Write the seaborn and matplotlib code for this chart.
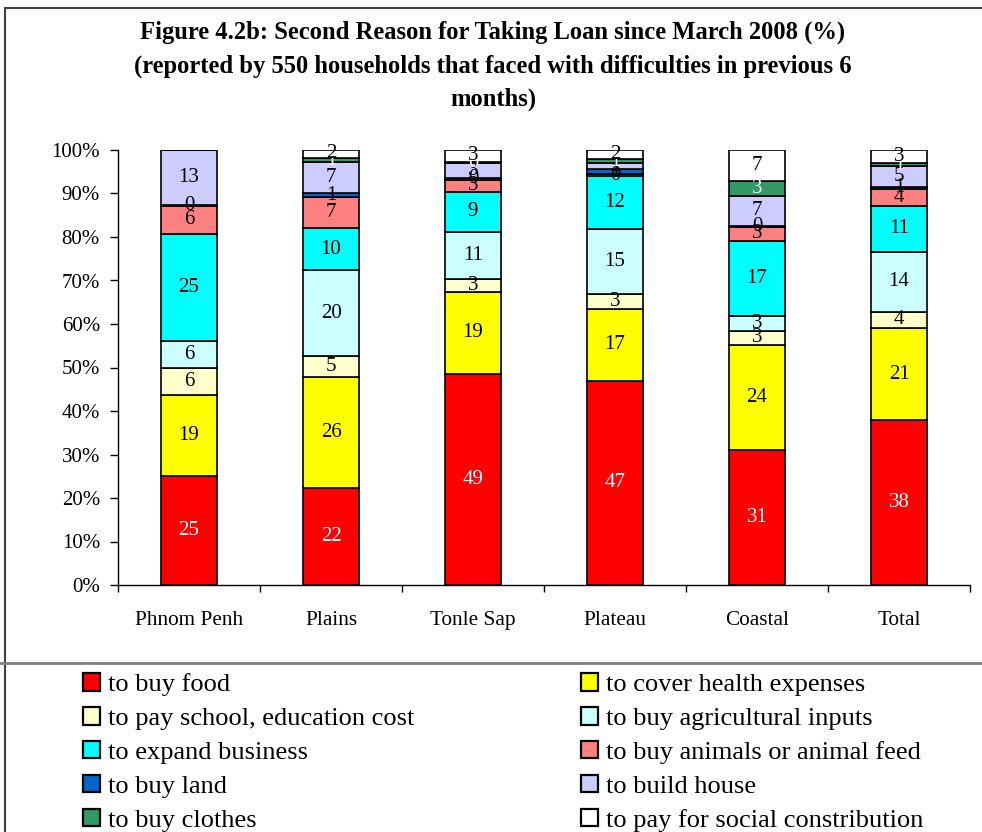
import numpy as np
import pandas as pd
import matplotlib
matplotlib.use("Agg")
import matplotlib.pyplot as plt
import seaborn as sns
from matplotlib.patches import Patch
from matplotlib.lines import Line2D

regions = ["Phnom Penh", "Plains", "Tonle Sap", "Plateau", "Coastal", "Total"]

buy_food      = [25.0, 22.3, 48.6, 46.9, 31.0, 37.9]
health        = [18.6, 25.5, 18.8, 16.6, 24.2, 21.2]
school        = [6.3, 4.8, 2.9, 3.3, 3.2, 3.7]
agri_inputs   = [6.3, 19.8, 10.8, 15.0, 3.4, 13.8]
business      = [24.6, 9.6, 9.3, 12.3, 17.2, 10.6]
animals       = [6.3, 7.2, 2.8, 0.3, 3.4, 3.8]
land          = [0.3, 0.9, 0.4, 1.2, 0.2, 0.6]
house         = [12.6, 7.1, 3.3, 1.3, 6.8, 4.8]
clothes       = [0.0, 1.0, 0.4, 1.0, 3.4, 0.7]
social        = [0.0, 1.8, 2.7, 2.2, 7.2, 2.9]

series_names = ["to buy food", "to cover health expenses", "to pay school, education cost",
                "to buy agricultural inputs", "to expand business", "to buy animals or animal feed",
                "to buy land", "to build house", "to buy clothes", "to pay for social constribution"]
series_vals = [buy_food, health, school, agri_inputs, business, animals, land, house, clothes, social]
colors = ["#FF0000", "#FFFF00", "#FFFFCC", "#CCFFFF", "#00FFFF", "#FF8080",
          "#0066CC", "#CCCCFF", "#339966", "#FFFFFF"]
label_colors = ["white", "black", "black", "black", "black", "black",
                "black", "black", "white", "black"]

sns.set_theme(style="ticks")
plt.rcParams["font.family"] = ["Liberation Serif", "DejaVu Serif"]
plt.rcParams["text.color"] = "black"
plt.rcParams["xtick.color"] = "black"
plt.rcParams["ytick.color"] = "black"
plt.rcParams["xtick.labelcolor"] = "black"
plt.rcParams["ytick.labelcolor"] = "black"

fig = plt.figure(figsize=(9.82, 8.32), dpi=100)
ax = fig.add_axes([118/982, 1-585/832, 852/982, 435/832])

bottoms = np.zeros(len(regions))
for name, vals, col in zip(series_names, series_vals, colors):
    df = pd.DataFrame({"region": regions, "value": vals})
    sns.barplot(data=df, x="region", y="value", bottom=bottoms.copy(), color=col,
                width=0.39, edgecolor="black", linewidth=1.2, saturation=1,
                errorbar=None, ax=ax, order=regions)
    bottoms = bottoms + np.array(vals)

for cont, vals, lc in zip(ax.containers, series_vals, label_colors):
    labs = [f"{v:.0f}" if v > 0 else "" for v in vals]
    ax.bar_label(cont, labels=labs, label_type="center", fontsize=15, color=lc)

ax.set_xlim(-0.5, 5.5)
ax.set_ylim(0, 100)
ax.set_yticks(np.arange(0, 101, 10))
ax.set_yticklabels([f"{t}%" for t in range(0, 101, 10)], fontsize=15)
ax.set_xticks(range(len(regions)))
ax.set_xticklabels(regions, fontsize=15.3)
ax.set_xticks(np.arange(-0.5, 6, 1), minor=True)
ax.tick_params(axis="x", which="major", length=0, pad=18.5)
ax.tick_params(axis="x", which="minor", length=5, width=1, color="black", direction="out")
ax.tick_params(axis="y", length=6, width=1, color="black", direction="out", pad=7)
ax.set_xlabel("")
ax.set_ylabel("")
for s in ["top", "right"]:
    ax.spines[s].set_visible(False)
for s in ["left", "bottom"]:
    ax.spines[s].set_color("black")
    ax.spines[s].set_linewidth(1)

title_lines = ["Figure 4.2b: Second Reason for Taking Loan since March 2008 (%)",
               "(reported by 550 households that faced with difficulties in previous 6",
               "months)"]
for line, ypx in zip(title_lines, [32, 66, 99]):
    fig.text(493/982, 1-ypx/832, line, ha="center", va="center", fontsize=17.7,
             fontweight="bold", color="black")

# frame lines
fig.add_artist(Line2D([5/982, 5/982], [0, 1-8/832], color="#404040", lw=1.5))
fig.add_artist(Line2D([5/982, 1], [1-8/832, 1-8/832], color="#404040", lw=1.5))
fig.add_artist(Line2D([0, 1], [1-663/832, 1-663/832], color="#808080", lw=2))

handles = [Patch(facecolor=c, edgecolor="black", linewidth=1.6) for c in colors]
left_idx = [0, 2, 4, 6, 8]
right_idx = [1, 3, 5, 7, 9]
for idx, xpx in [(left_idx, 83), (right_idx, 581)]:
    leg = fig.legend([handles[i] for i in idx], [series_names[i] for i in idx],
                     loc="upper left", bbox_to_anchor=(xpx/982, 1-673/832),
                     frameon=False, fontsize=19, handlelength=0.65, handleheight=0.65,
                     handletextpad=0.3, labelspacing=0.41, borderpad=0, borderaxespad=0)

fig.savefig("out.png", dpi=100)
